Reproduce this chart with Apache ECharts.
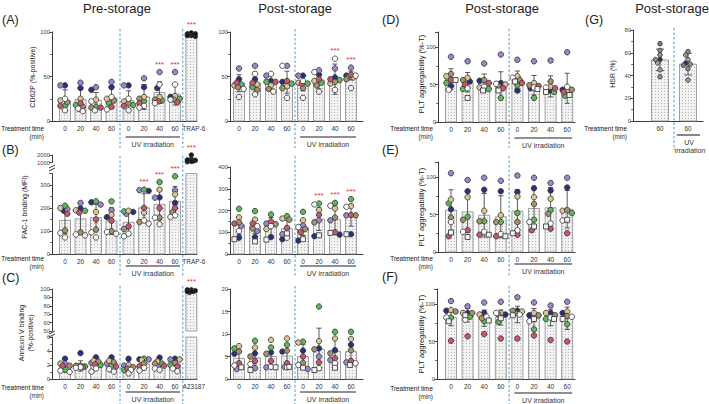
<!DOCTYPE html>
<html><head><meta charset="utf-8">
<script src="https://cdn.jsdelivr.net/npm/echarts@6/dist/echarts.min.js"></script>
<style>html,body{margin:0;padding:0;background:#fff}#c{width:709px;height:404px}</style>
</head><body><div id="c"></div>
<script>
// ---------------- DATA ----------------
const catsPreA = ['0','20','40','60','0','20','40','60','TRAP-6'];
const catsPreC = ['0','20','40','60','0','20','40','60','A23187'];
const catsPost = ['0','20','40','60','0','20','40','60'];
const catsG = ['60','60'];

// (A) CD62P pre-storage
const A_pre_mean = [23,24,23,26,23,27,32,30,97.6];
const A_pre_sd   = [12,13,9,12,11,14,12,12,1.5];
const A_pre_sig  = [0,0,0,0,0,0,1,1,1];
const A_pre_pts  = [
  [40,40,17,23,21,17,25,12],[37,43,18,25,16,20,14,11],[35,38,16,24,15,15,22,12],[38,44,20,25,23,16,27,13],
  [40,40,18,22,20,17,25,12],[38,48,22,27,25,20,17,15],[37,55,23,27,24,22,41,20],[27,55,25,28,24,21,41,24],
  [97,96,98,99,95,97,98,96]];
// (A) CD62P post-storage
const A_post_mean = [42.5,42.5,44,43.6,42,46,47,51];
const A_post_sd   = [9.5,12.5,8,12.4,8,10,17,5];
const A_post_sig  = [0,0,0,0,0,0,1,1];
const A_post_pts  = [
  [47,59,41,40,38,43,36,27],[47,62,38,41,35,43,53,30],[45,51,44,40,36,44,53,33],[44,62,42,39,37,45,62,26],
  [51,51,42,43,37,42,45,26],[52,57,43,45,40,47,55,33],[49,59,46,42,44,47,70,35],[51,60,50,49,47,52,51,37]];
// (B) PAC-1 pre-storage
const B_pre_mean = [146,153,158,143,138,201,216,229,1300];
const B_pre_sd   = [58,54,58,58,56,61,68,65,300];
const B_pre_sig  = [0,0,0,0,0,1,1,1,1];
const B_pre_pts  = [
  [188,195,210,200,103,175,91,72],[197,222,188,190,94,180,85,81],[225,215,229,183,106,150,94,72],[160,190,229,171,100,145,96,88],
  [183,175,185,188,109,120,88,77],[274,278,280,180,139,200,146,132],[246,245,313,280,158,200,158,129],[222,277,338,259,183,200,168,161],
  [2000,1300,1200,1100,1400,1250,1150,1350]];
// (B) PAC-1 post-storage
const B_post_mean = [132,129,125,117,120,160,158,178];
const B_post_sd   = [42,34,43,38,35,52,67,50];
const B_post_sig  = [0,0,0,0,0,1,1,1];
const B_post_pts  = [
  [75,129,208,168,146,140,106,68],[78,106,197,158,117,140,128,58],[78,140,182,115,137,150,128,66],[68,91,174,163,158,120,75,95],
  [62,132,194,155,115,100,124,68],[82,155,232,202,145,180,228,86],[89,155,235,209,168,100,222,97],[91,178,252,220,178,180,217,91]];
// (C) Annexin V pre-storage
const C_pre_mean = [2.1,1.86,2.24,2.0,1.76,2.14,2.1,2.14,98];
const C_pre_sd   = [0.8,0.74,0.96,0.95,0.84,0.81,0.76,0.81,1.2];
const C_pre_sig  = [0,0,0,0,0,0,0,0,1];
const C_pre_pts  = [
  [2.9,2.2,1.3,2.2,1.9,1.9,1.2,1.0],[3.7,1.9,1.8,1.8,1.9,1.7,1.7,1.6],[3.1,2.3,2.0,2.6,2.5,2.1,1.5,1.05],[3.1,2.2,1.9,2.6,2.4,1.8,1.4,1.05],
  [2.9,1.9,1.3,2.0,1.7,1.5,1.3,0.8],[2.8,2.8,2.9,2.7,2.2,1.8,1.6,1.2],[3.05,2.0,2.2,2.5,2.2,1.9,1.5,1.3],[2.9,2.8,2.0,2.8,2.3,1.8,1.5,1.1],
  [98,97,99,96,98,97,99,97]];
// (C) Annexin V post-storage
const C_post_mean = [4.6,4.7,5.0,5.1,5.0,6.6,6.1,6.1];
const C_post_sd   = [1.8,2.3,2.3,2.4,2.7,4.7,2.9,2.7];
const C_post_sig  = [0,0,0,0,0,0,0,0];
const C_post_pts  = [
  [5.6,2.2,6.8,7.3,6.1,3.5,3.0,2.6],[5.7,2.4,8.5,7.0,5.0,4.0,3.3,2.0],[5.9,2.6,7.0,8.7,5.6,4.0,2.7,2.6],[6.1,2.7,7.6,9.0,6.3,3.5,2.6,2.7],
  [6.3,2.2,8.3,8.1,3.6,5.0,3.1,2.5],[6.8,5.0,16.1,8.4,6.6,3.7,2.4,2.0],[6.4,4.2,10.5,9.0,5.7,4.6,3.5,2.5],[7.6,3.7,10.5,8.9,6.4,4.0,3.5,3.1]];
// (D) PLT aggregability
const D_mean = [57,53,52,50,54,49,47.5,45];
const D_sd   = [14,13,12,17,14,13,14,20];
const D_sig  = [0,0,0,0,0,0,0,0];
const D_pts  = [
  [48,87,52,61,64,56,43,56],[54,81,44,59,56,50,45,32],[55,78,44,46,56,52,47,42],[52,90,32,50,48,45,51,42],
  [42,83,49,61,56,52,59,54],[45,81,32,52,49,48,46,44],[42,82,40,47,54,45,46,40],[43,93,35,41,43,40,47,36]];
// (E)
const E_mean = [56,53.5,49,47,54.4,58,59,57];
const E_sd   = [27,27.5,29,28,28.6,27,27,25];
const E_sig  = [0,0,0,0,0,0,0,0];
const E_pts  = [
  [57,105,65,70,46,21,40,26],[81,96,47,73,43,29,27,20],[83,99,41,55,41,23,27,23],[81,95,40,49,40,21,24,21],
  [80,102,52,74,40,23,29,25],[85,99,43,73,64,29,40,34],[82,92,56,71,51,31,38,34],[86,99,52,55,56,25,42,43]];
// (F)
const F_mean = [82,85,81,82,86,81,82,81];
const F_sd   = [11,9,11,10,11,13,11,15];
const F_sig  = [0,0,0,0,0,0,0,0];
const F_pts  = [
  [91,104,82,92,90,51,82,77],[88,97,83,88,88,57,79,85],[88,102,77,86,81,60,83,78],[86,103,76,88,86,54,88,81],
  [91,109,88,90,91,54,86,85],[85,102,66,88,85,58,77,80],[88,98,80,88,85,52,82,80],[88,103,73,90,84,50,83,80]];
// (G) HSR
const G_mean = [53.7,50];
const G_sd   = [9.5,9.5];
const G_sig  = [0,0];
const G_pts  = [[54,62,58,51,68,54,45,39],[51,61,58,54,49,46,36,50]];

// ---------------- STYLE / LAYOUT ----------------
const FONT = "'Liberation Sans', Arial, Helvetica, sans-serif";
const AX = '#262626';
const DONOR_COLORS = ['#2a3080','#9a88cc','#5cb85c','#dcc792','#a88f6e','#c9566e','#ffffff','#f4f4f4'];
const G_COLORS = ['#2a3080','#8c8c8c','#9a9a9a','#b8a27a','#7a7a7a','#8c8c8c','#a0a0a0','#909090'];
const POS_PRE = [1,2,3,4,5.1,6.1,7.1,8.1,9.15];
const POS_POST = [1,2,3,4,5,6,7,8];
const POS_G = [1,2];

const dot = document.createElement('canvas'); dot.width = 3; dot.height = 3;
const dctx = dot.getContext('2d');
dctx.fillStyle = '#f2f2f2'; dctx.fillRect(0,0,3,3);
dctx.fillStyle = '#b9b9b9'; dctx.fillRect(1,1,1,1);
const barFill = {image: dot, repeat: 'repeat'};

function swarm(ys, r, wide) {
  const n = ys.length, order = [...Array(n).keys()].sort((a,b)=>ys[a]-ys[b]);
  const off = new Array(n).fill(0), placed = [];
  const s = wide ? 2.0 : 2.3;
  const cands = [0,-s,s,-2*s,2*s,-s/2,s/2,-1.5*s,1.5*s];
  const d2 = (2*r*0.75)**2;
  for (const i of order) {
    let best = null, bestD = -1, bestC = 0;
    for (const c of cands) {
      let md = Infinity;
      for (const q of placed) md = Math.min(md, (q.x-c)**2 + (q.y-ys[i])**2);
      if (md >= d2) { best = c; break; }
      if (md > bestD) { bestD = md; bestC = c; }
    }
    if (best === null) best = bestC;
    off[i] = best; placed.push({x: best, y: ys[i]});
  }
  return off;
}

function makeRender(p) {
  const ymin = p.y[0], ymax = p.y[1];
  return function (params, api) {
    const pos = api.value(0), mean = api.value(1), sd = api.value(2), sig = api.value(3), special = api.value(4);
    const vals = []; for (let k = 0; k < 8; k++) vals.push(api.value(5 + k));
    const cl = v => Math.max(ymin, Math.min(ymax, v));
    const base = api.coord([pos, ymin]); const cx = base[0], y0 = base[1];
    const ch = [];
    if (mean > ymin) {
      const yt = api.coord([pos, cl(mean)])[1];
      ch.push({type:'rect', shape:{x:cx - p.bw/2, y:yt, width:p.bw, height:y0 - yt},
        style:{fill: barFill, stroke:'#8a8a8a', lineWidth:0.8}});
    }
    const lo = mean - sd, hi = mean + sd;
    if (sd > 0 && hi > ymin && lo < ymax) {
      const yl = api.coord([pos, cl(lo)])[1], yh = api.coord([pos, cl(hi)])[1];
      const st = {stroke:'#333', lineWidth:0.8};
      ch.push({type:'line', shape:{x1:cx, y1:yl, x2:cx, y2:yh}, style:st});
      const cw = p.bw > 14 ? 4 : 2.6;
      if (hi <= ymax) ch.push({type:'line', shape:{x1:cx-cw, y1:yh, x2:cx+cw, y2:yh}, style:st});
      if (lo >= ymin) ch.push({type:'line', shape:{x1:cx-cw, y1:yl, x2:cx+cw, y2:yl}, style:st});
    }
    const r = special ? 2.3 : p.r;
    const ys = [], idx = [];
    vals.forEach((v,k) => { if (v >= ymin && v <= ymax) { ys.push(api.coord([pos, v])[1]); idx.push(k); } });
    const offs = swarm(ys, r, !!special);
    ys.forEach((y,j) => {
      const k = idx[j];
      const fill = special ? '#151515' : (p.colors ? p.colors[k] : DONOR_COLORS[k]);
      const st = {fill: fill, stroke: '#383838', lineWidth: 0.85};
      if (!special && p.squares && k === 7) {
        ch.push({type:'rect', shape:{x: cx + offs[j] - r*0.9, y: y - r*0.9, width: r*1.8, height: r*1.8}, style: st});
      } else {
        ch.push({type:'circle', shape:{cx: cx + offs[j], cy: y, r: r}, style: st});
      }
    });
    if (sig) {
      const top = Math.max(Math.max.apply(null, vals), hi);
      if (top >= ymin && top <= ymax * 1.02) {
        const yt = api.coord([pos, Math.min(top, ymax)])[1];
        ch.push({type:'text', x: cx, y: yt - 8, style:{text:'***', fill:'#e2332b', fontSize:8, fontFamily:FONT, align:'center', verticalAlign:'middle'}});
      }
    }
    return {type:'group', children: ch};
  };
}

function makeAnnot(p) {
  const ymin = p.y[0];
  return function (params, api) {
    const kind = api.value(1);
    const xa = api.coord([api.value(0), ymin]);
    if (kind === 0) {
      return {type:'line', shape:{x1:xa[0], y1:p.row[0], x2:xa[0], y2:p.row[1]},
        style:{stroke:'#3f8cc2', lineWidth:0.9, lineDash:[2.5,2]}};
    }
    const y0 = xa[1];
    const ts = {fill:'#333', fontSize:7, fontFamily:FONT, align:'center', verticalAlign:'middle'};
    if (p.uvG) {
      return {type:'group', children:[
        {type:'line', shape:{x1:xa[0]-11, y1:y0+p.uvDy[0], x2:xa[0]+12, y2:y0+p.uvDy[0]}, style:{stroke:'#222', lineWidth:1.1}},
        {type:'text', x:xa[0]+1, y:y0+p.uvDy[1], style:Object.assign({text:'UV'}, ts)},
        {type:'text', x:xa[0]+2, y:y0+p.uvDy[1]+8, style:Object.assign({text:'irradiation'}, ts)}
      ]};
    }
    const xb = api.coord([api.value(2), ymin])[0];
    return {type:'group', children:[
      {type:'line', shape:{x1:xa[0]-3, y1:y0+p.uvDy[0], x2:xb+5, y2:y0+p.uvDy[0]}, style:{stroke:'#222', lineWidth:1.1}},
      {type:'text', x:(xa[0]+xb)/2+1, y:y0+p.uvDy[1], style:Object.assign({text:'UV irradiation'}, ts)}
    ]};
  };
}

const option = {animation:false, backgroundColor:'#fff', textStyle:{fontFamily:FONT}, grid:[], xAxis:[], yAxis:[], series:[], graphic:[]};

function addPanel(p) {
  const gi = option.grid.length;
  option.grid.push({left:p.g[0], top:p.g[1], width:p.g[2], height:p.g[3]});
  const lab = {}; if (p.cats) p.pos.forEach((v,i) => lab[v] = p.cats[i]);
  option.xAxis.push({gridIndex:gi, type:'value', min:p.xr[0], max:p.xr[1], show: !p.noX,
    axisLine:{show:true, onZero:false, lineStyle:{color:AX, width:0.9}}, axisTick:{show:false}, splitLine:{show:false},
    axisLabel:{show: !!p.cats, customValues: p.pos,
      formatter: v => { const t = lab[v]; if (t === undefined) return ''; return t.length > 3 ? '{w|' + t + '}' : t; },
      rich:{w:{fontSize:6.5, color:'#333', fontFamily:FONT, padding:[0,0,0,5]}},
      fontSize:6.5, color:'#333', margin:4, fontFamily:FONT}});
  option.yAxis.push({gridIndex:gi, type:'value', min:p.y[0], max:p.y[1], interval:p.y[2],
    axisLine:{show:true, onZero:false, lineStyle:{color:AX, width:0.9}},
    axisTick:{show:true, length:3, lineStyle:{color:AX, width:0.8}},
    minorTick:{show: !!p.y[3], splitNumber: p.y[3] || 2, length:1.8, lineStyle:{color:AX, width:0.7}},
    splitLine:{show:false}, minorSplitLine:{show:false},
    axisLabel:{fontSize:5.8, color:'#444', margin:2, fontFamily:FONT, formatter: v => String(v),
      showMaxLabel: p.hideMax ? false : null}});
  const rows = p.mean.map((m,i) => [p.pos[i], m, p.sd[i], p.sig[i], i === p.special ? 1 : 0].concat(p.pts[i]));
  option.series.push({type:'custom', xAxisIndex:gi, yAxisIndex:gi, data:rows, encode:{x:0, y:1},
    clip:false, silent:true, z:3, renderItem: makeRender(p)});
  if (p.dash) {
    const ad = p.dash.map(d => [d, 0, 0]);
    if (p.uv) ad.push([p.uv[0], 1, p.uv[1]]);
    option.series.push({type:'custom', xAxisIndex:gi, yAxisIndex:gi, data:ad, encode:{x:0},
      clip:false, silent:true, z:2, renderItem: makeAnnot(p)});
  }
}

const preX = [0.1613, 9.516], postX = [0.4375, 8.75], dX = [0.2169, 8.47];
addPanel({g:[52,32,145,89], xr:preX, pos:POS_PRE, cats:catsPreA, y:[0,100,50,2], mean:A_pre_mean, sd:A_pre_sd, sig:A_pre_sig, pts:A_pre_pts, special:8, bw:11, r:2.75, dash:[4.55,8.6], row:[29,148], uv:[5.1,8.1], uvDy:[16,23]});
addPanel({g:[230,32,133,89], xr:postX, pos:POS_POST, cats:catsPost, y:[0,100,50,2], mean:A_post_mean, sd:A_post_sd, sig:A_post_sig, pts:A_post_pts, bw:11, r:2.75, dash:[4.5], row:[29,148], uv:[5,8], uvDy:[16,23]});
addPanel({g:[52,173.5,145,80.5], xr:preX, pos:POS_PRE, cats:catsPreA, y:[0,350,100,2], hideMax:true, mean:B_pre_mean, sd:B_pre_sd, sig:B_pre_sig, pts:B_pre_pts, special:8, bw:11, r:2.75, dash:[4.55,8.6], row:[156,277], uv:[5.1,8.1], uvDy:[12,19]});
addPanel({g:[52,155,145,7.5], xr:preX, pos:POS_PRE, noX:true, y:[1000,2000,1000,0], mean:B_pre_mean, sd:B_pre_sd, sig:B_pre_sig, pts:B_pre_pts, special:8, bw:11, r:2.75});
addPanel({g:[230,167,133,87], xr:postX, pos:POS_POST, cats:catsPost, y:[0,400,100,2], mean:B_post_mean, sd:B_post_sd, sig:B_post_sig, pts:B_post_pts, bw:11, r:2.75, squares:true, dash:[4.5], row:[156,277], uv:[5,8], uvDy:[12,19]});
addPanel({g:[52,337,145,42], xr:preX, pos:POS_PRE, cats:catsPreC, y:[0,6,2,2], mean:C_pre_mean, sd:C_pre_sd, sig:C_pre_sig, pts:C_pre_pts, special:8, bw:11, r:2.75, dash:[4.55,8.6], row:[286,404], uv:[5.1,8.1], uvDy:[13,20]});
addPanel({g:[52,289,145,42], xr:preX, pos:POS_PRE, noX:true, y:[50,100,10,0], mean:C_pre_mean, sd:C_pre_sd, sig:C_pre_sig, pts:C_pre_pts, special:8, bw:11, r:2.75});
addPanel({g:[230,289,133,90], xr:postX, pos:POS_POST, cats:catsPost, y:[0,20,5,0], mean:C_post_mean, sd:C_post_sd, sig:C_post_sig, pts:C_post_pts, bw:11, r:2.75, squares:true, dash:[4.5], row:[286,404], uv:[5,8], uvDy:[13,20]});
addPanel({g:[438,32,137,90], xr:dX, pos:POS_POST, cats:catsPost, y:[0,120,50,2], hideMax:true, mean:D_mean, sd:D_sd, sig:D_sig, pts:D_pts, bw:11, r:2.75, squares:true, dash:[4.5], row:[29,148], uv:[5,8], uvDy:[16,23]});
addPanel({g:[438,162,137,90], xr:dX, pos:POS_POST, cats:catsPost, y:[0,120,50,2], hideMax:true, mean:E_mean, sd:E_sd, sig:E_sig, pts:E_pts, bw:11, r:2.75, squares:true, dash:[4.5], row:[156,277], uv:[5,8], uvDy:[12,19]});
addPanel({g:[437,289,138,90], xr:[0.1566,8.47], pos:POS_POST, cats:catsPost, y:[0,120,50,2], hideMax:true, mean:F_mean, sd:F_sd, sig:F_sig, pts:F_pts, bw:11, r:2.75, squares:true, dash:[4.5], row:[286,404], uv:[5,8], uvDy:[14,21]});
addPanel({g:[633,30,70,91], xr:[0.0357,2.536], pos:POS_G, cats:catsG, y:[0,80,20,2], mean:G_mean, sd:G_sd, sig:G_sig, pts:G_pts, bw:17, r:2.3, colors:G_COLORS, dash:[1.5], row:[28,150], uv:[2,2], uvG:true, uvDy:[14,21]});

// ---------------- TEXT / DECORATION ----------------
const T = (text, x, y, o) => Object.assign({type:'text', x:x, y:y, silent:true,
  style:Object.assign({text:text, fill:'#222', fontSize:7, fontFamily:FONT, align:'center', verticalAlign:'middle'}, o && o.style)},
  o && o.rot ? {rotation: Math.PI/2} : {});
const G = option.graphic;
G.push(T('Pre-storage', 117, 8, {style:{fontSize:13}}));
G.push(T('Post-storage', 295, 8, {style:{fontSize:13}}));
G.push(T('Post-storage', 502, 8, {style:{fontSize:13}}));
G.push(T('Post-storage', 672, 8, {style:{fontSize:13}}));
[['(A)',2,20],['(B)',2,150],['(C)',2,278],['(D)',382,20],['(E)',382,150],['(F)',382,277],['(G)',585,20]]
  .forEach(a => G.push(T(a[0], a[1], a[2], {style:{fontSize:12.5, align:'left'}})));
[[44,128],[44,258],[44,387],[433,128],[433,258],[433,388],[627,128]].forEach(a => {
  G.push(T('Treatment time', a[0], a[1], {style:{fontSize:6.4, align:'right', fill:'#111'}}));
  G.push(T('(min)', a[0], a[1]+8, {style:{fontSize:6.4, align:'right', fill:'#333'}}));
});
G.push(T('CD62P (%-positive)', 32, 77, {rot:true}));
G.push(T('PAC-1 binding (MFI)', 24, 207, {rot:true}));
G.push(T('Annexin V binding', 21, 333, {rot:true}));
G.push(T('(%-positive)', 30, 333, {rot:true}));
G.push(T('PLT aggregability (%-T)', 421, 74, {rot:true, style:{fontSize:7.5}}));
G.push(T('PLT aggregability (%-T)', 421, 207, {rot:true, style:{fontSize:7.5}}));
G.push(T('PLT aggregability (%-T)', 421, 334, {rot:true, style:{fontSize:7.5}}));
G.push(T('HSR (%)', 612, 74, {rot:true}));
// axis break marks
[[167],[333]].forEach(b => {
  const y = b[0];
  G.push({type:'line', silent:true, shape:{x1:49, y1:y+1, x2:55, y2:y-2}, style:{stroke:'#222', lineWidth:0.9}});
  G.push({type:'line', silent:true, shape:{x1:49, y1:y+4, x2:55, y2:y+1}, style:{stroke:'#222', lineWidth:0.9}});
});

const chart = echarts.init(document.getElementById('c'), null, {renderer:'svg', width:709, height:404});
chart.setOption(option);
</script>
</body></html>
